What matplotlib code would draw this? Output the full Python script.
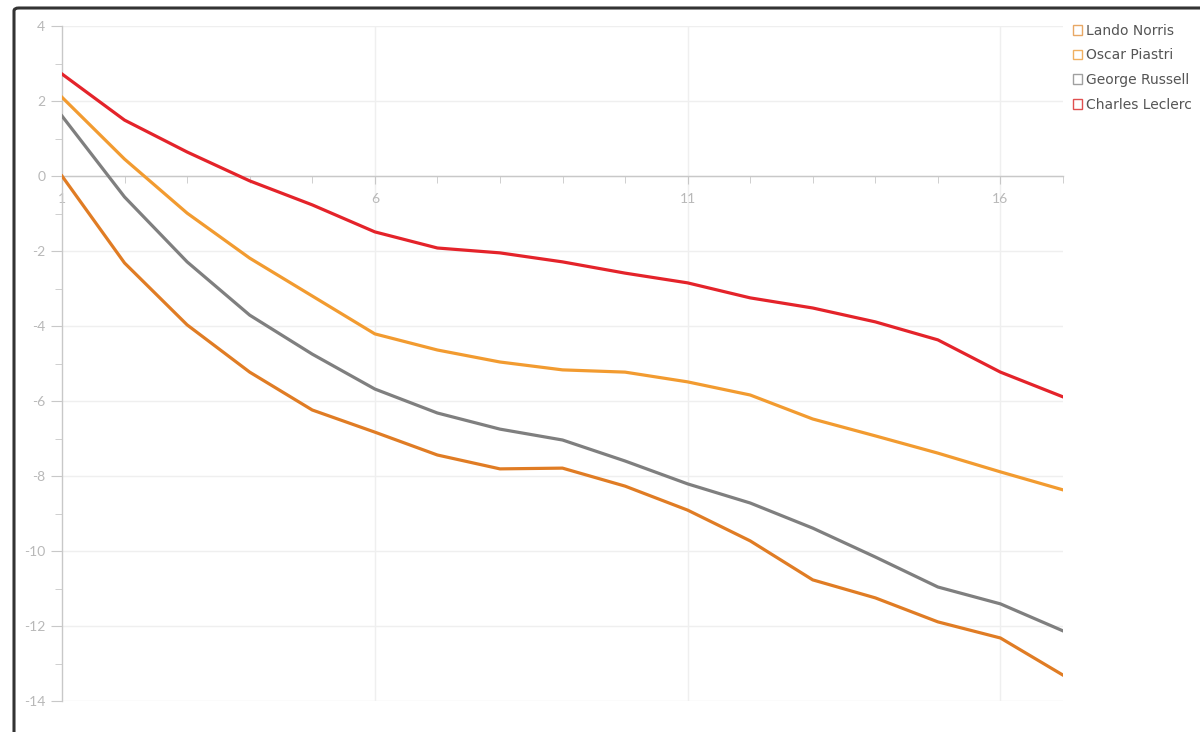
import matplotlib
matplotlib.use("Agg")
import matplotlib.pyplot as plt
from matplotlib.patches import Patch, FancyBboxPatch
from matplotlib.ticker import MultipleLocator, FixedLocator

plt.rcParams["axes.unicode_minus"] = False

laps = list(range(1, 18))
drivers = ["Lando Norris", "Oscar Piastri", "George Russell", "Charles Leclerc"]
colors = ["#E07C24", "#F29B30", "#7F7F7F", "#E4232A"]
legend_edge = ["#E8A865", "#F0B060", "#A0A0A0", "#E05050"]

norris = [0.0, -2.32, -3.97, -5.23, -6.24, -6.83, -7.44, -7.81, -7.79, -8.27,
          -8.91, -9.73, -10.77, -11.25, -11.89, -12.32, -13.31]
piastri = [2.1, 0.45, -0.99, -2.19, -3.2, -4.21, -4.64, -4.96, -5.17, -5.23,
           -5.49, -5.84, -6.48, -6.93, -7.39, -7.89, -8.37]
russell = [1.6, -0.56, -2.29, -3.71, -4.75, -5.68, -6.32, -6.75, -7.04, -7.6,
           -8.21, -8.72, -9.39, -10.16, -10.96, -11.41, -12.13]
leclerc = [2.72, 1.49, 0.64, -0.13, -0.77, -1.49, -1.92, -2.05, -2.29, -2.59,
           -2.85, -3.25, -3.52, -3.89, -4.37, -5.23, -5.89]
series = [norris, piastri, russell, leclerc]

x_major = [1, 6, 11, 16]
y_major = list(range(-14, 5, 2))

fig = plt.figure(figsize=(12, 7.32), dpi=100)
ax = fig.add_axes([62/1200, 1-701/732, (1063-62)/1200, (701-26)/732])

for vals, c, name in zip(series, colors, drivers):
    ax.plot(laps, vals, color=c, lw=2.3, zorder=5, label=name, solid_joinstyle="round")

ax.set_xlim(1, 17)
ax.set_ylim(-14, 4)

ax.xaxis.set_major_locator(FixedLocator(x_major))
ax.xaxis.set_minor_locator(MultipleLocator(1))
ax.yaxis.set_major_locator(FixedLocator(y_major))
ax.yaxis.set_minor_locator(MultipleLocator(1))

for s in ["top", "right"]:
    ax.spines[s].set_visible(False)
ax.spines["bottom"].set_position(("data", 0))
ax.spines["bottom"].set_color("#C8C8C8")
ax.spines["left"].set_color("#C8C8C8")
ax.spines["bottom"].set_linewidth(1.0)
ax.spines["left"].set_linewidth(1.0)

ax.tick_params(axis="x", which="major", direction="out", length=6, color="#C8C8C8",
               labelcolor="#B8B8B8", labelsize=10, pad=6)
ax.tick_params(axis="x", which="minor", direction="out", length=5, color="#C8C8C8")
ax.tick_params(axis="y", which="major", direction="out", length=8, color="#C8C8C8",
               labelcolor="#B8B8B8", labelsize=10, pad=4)
ax.tick_params(axis="y", which="minor", direction="out", length=5, color="#C8C8C8")
for lab in ax.get_xticklabels() + ax.get_yticklabels():
    lab.set_fontfamily("Lato")
for lab in ax.get_xticklabels():
    lab.set_zorder(1)

for yv in y_major:
    ax.axhline(yv, color="#EFEFEF", lw=1.0, zorder=0)
for xv in x_major[1:]:
    ax.axvline(xv, color="#EFEFEF", lw=1.0, zorder=0)

handles = [Patch(facecolor="none", edgecolor=ec, lw=1.0, label=n)
           for n, ec in zip(drivers, legend_edge)]
leg = fig.legend(handles=handles, loc="upper left", bbox_to_anchor=(1067/1200, 1-18/732),
                 frameon=False, fontsize=10, handlelength=0.7, handleheight=0.7,
                 handletextpad=0.25, labelspacing=0.78, borderaxespad=0)
for t in leg.get_texts():
    t.set_color("#555555")
    t.set_fontfamily("DejaVu Sans")

frame = FancyBboxPatch((14/1200, -0.05), 1.0, (1-8/732)+0.05,
                       boxstyle="round,pad=0,rounding_size=0.004",
                       transform=fig.transFigure, facecolor="none",
                       edgecolor="#333333", lw=2.2, zorder=10)
fig.patches.append(frame)

fig.savefig("out.png", dpi=100)
